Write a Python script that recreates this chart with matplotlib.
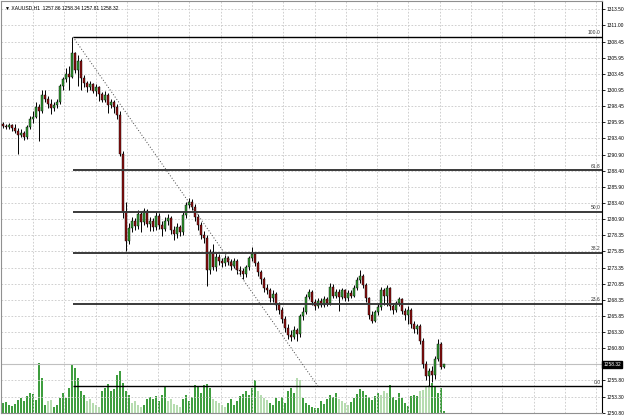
import numpy as np
from matplotlib import pyplot as plt

# --- XAUUSD H1 bars ---
first_open = 1295.6
closes = [1295.4, 1295.2, 1295.5, 1295.0, 1294.6, 1294.0, 1294.3, 1293.6, 1295.2, 1296.4,
          1296.8, 1298.3, 1297.6, 1300.2, 1299.6, 1298.8, 1298.1, 1298.6, 1299.1, 1301.5,
          1302.6, 1303.4, 1303.0, 1306.6, 1304.0, 1305.5, 1302.8, 1302.0, 1301.4, 1301.9,
          1300.8, 1301.4, 1300.3, 1299.4, 1300.1, 1298.6, 1299.0, 1298.3, 1297.0, 1291.0,
          1282.0, 1277.5, 1279.5, 1280.5, 1279.8, 1281.6, 1280.4, 1282.2, 1280.1, 1280.6,
          1279.6, 1281.4, 1280.0, 1279.4, 1280.5, 1281.0, 1279.2, 1278.5, 1279.6, 1278.8,
          1281.5, 1283.0, 1283.6, 1282.8, 1281.2, 1280.0, 1278.4, 1278.0, 1273.0, 1275.8,
          1273.5, 1275.0, 1274.4, 1274.0, 1274.8, 1274.2, 1273.6, 1274.3, 1273.0, 1272.8,
          1272.3, 1273.4, 1274.8, 1275.5, 1274.0, 1272.6, 1271.5, 1270.2, 1269.8, 1268.6,
          1269.2, 1267.5, 1266.8, 1265.4, 1264.0, 1262.8, 1262.5, 1263.6, 1263.0, 1265.8,
          1266.5, 1268.8, 1269.5, 1268.0, 1267.4, 1268.2, 1267.6, 1268.5, 1267.8, 1270.4,
          1269.0, 1269.6, 1268.8, 1269.8, 1268.6, 1269.4, 1269.0, 1270.2, 1271.4, 1272.0,
          1270.6, 1268.6, 1266.0, 1265.0, 1266.4, 1267.2, 1269.8, 1269.0, 1270.1, 1267.4,
          1266.8, 1267.8, 1268.4, 1266.6, 1266.0, 1266.8, 1264.6, 1263.8, 1264.2, 1262.0,
          1258.4, 1256.5, 1257.3, 1256.6, 1259.2, 1261.4, 1257.86, 1258.32]
highs = [1295.9, 1295.7, 1295.8, 1295.7, 1295.6, 1295.0, 1294.8, 1294.6, 1295.5, 1296.9,
         1297.6, 1299.0, 1298.8, 1300.9, 1300.9, 1300.0, 1299.5, 1299.0, 1299.6, 1301.8,
         1303.0, 1304.4, 1304.6, 1309.16, 1306.9, 1306.4, 1305.8, 1303.2, 1302.4, 1302.3,
         1302.0, 1301.8, 1301.6, 1300.6, 1300.7, 1300.4, 1299.6, 1299.4, 1298.8, 1297.6,
         1291.4, 1283.6, 1280.2, 1281.2, 1281.0, 1282.3, 1282.0, 1282.6, 1282.4, 1281.2,
         1281.0, 1282.2, 1281.8, 1280.6, 1281.2, 1281.6, 1281.4, 1279.8, 1280.2, 1280.0,
         1281.9, 1283.5, 1284.1, 1284.0, 1283.2, 1281.6, 1280.4, 1279.0, 1278.4, 1276.2,
         1277.0, 1275.6, 1275.4, 1274.9, 1275.3, 1275.2, 1274.6, 1274.8, 1274.6, 1273.6,
         1273.2, 1273.8, 1275.2, 1276.5, 1275.8, 1274.4, 1273.0, 1271.9, 1270.8, 1270.2,
         1269.8, 1269.6, 1268.0, 1267.2, 1265.8, 1264.6, 1263.6, 1264.2, 1264.0, 1266.2,
         1267.2, 1269.2, 1270.0, 1269.8, 1268.4, 1268.6, 1268.6, 1268.9, 1268.8, 1270.9,
         1270.8, 1270.0, 1270.0, 1270.2, 1270.0, 1269.8, 1269.8, 1270.6, 1271.8, 1272.9,
         1272.4, 1271.0, 1268.8, 1266.6, 1266.8, 1267.8, 1270.3, 1270.2, 1270.6, 1270.4,
         1267.8, 1268.2, 1268.8, 1268.6, 1267.0, 1267.4, 1267.0, 1265.0, 1264.6, 1264.5,
         1262.4, 1258.8, 1257.8, 1258.0, 1259.6, 1262.2, 1261.8, 1258.34]
lows = [1295.0, 1294.9, 1294.9, 1294.6, 1294.2, 1291.0, 1293.6, 1293.2, 1293.3, 1294.9,
        1295.8, 1296.5, 1293.0, 1297.3, 1299.0, 1298.2, 1297.2, 1297.6, 1298.2, 1298.8,
        1301.0, 1302.2, 1301.0, 1302.8, 1303.6, 1301.5, 1301.0, 1301.4, 1300.6, 1301.0,
        1300.4, 1300.0, 1299.2, 1299.0, 1299.0, 1297.3, 1298.2, 1297.4, 1296.4, 1290.6,
        1281.0, 1275.9, 1277.0, 1278.8, 1279.2, 1279.4, 1278.8, 1280.0, 1279.6, 1279.0,
        1279.0, 1279.2, 1279.4, 1278.2, 1279.0, 1280.0, 1278.6, 1277.6, 1278.0, 1278.2,
        1278.4, 1281.0, 1282.6, 1282.3, 1280.6, 1279.2, 1277.8, 1277.2, 1270.5, 1272.4,
        1273.0, 1272.8, 1273.8, 1273.4, 1273.6, 1273.8, 1273.0, 1273.2, 1272.4, 1272.2,
        1271.6, 1271.8, 1273.0, 1274.4, 1273.6, 1272.0, 1270.8, 1269.6, 1269.2, 1268.0,
        1268.0, 1266.8, 1266.2, 1264.8, 1263.4, 1262.2, 1262.0, 1262.2, 1262.0, 1262.6,
        1265.2, 1266.2, 1268.4, 1267.6, 1266.8, 1267.0, 1267.2, 1267.2, 1267.4, 1267.6,
        1268.6, 1268.6, 1266.6, 1268.4, 1268.2, 1268.2, 1268.6, 1268.8, 1269.8, 1271.0,
        1270.2, 1268.0, 1265.4, 1264.8, 1264.9, 1266.0, 1266.8, 1267.6, 1267.4, 1266.8,
        1266.2, 1266.4, 1267.4, 1266.2, 1265.2, 1264.6, 1264.0, 1263.2, 1263.0, 1261.4,
        1257.8, 1255.8, 1254.9, 1255.6, 1256.0, 1258.8, 1257.6, 1257.81]
volumes = [10, 11, 8, 7, 9, 13, 15, 12, 17, 20, 19, 13, 50, 35, 8, 12, 13, 6, 8, 15,
           20, 15, 25, 48, 45, 35, 22, 18, 12, 14, 10, 8, 6, 22, 25, 29, 22, 24, 38, 42,
           30, 22, 18, 10, 12, 8, 6, 8, 14, 16, 14, 17, 12, 18, 27, 12, 14, 9, 8, 6,
           14, 18, 12, 16, 28, 26, 20, 28, 29, 25, 14, 12, 10, 8, 6, 10, 14, 8, 12, 17,
           19, 22, 18, 25, 33, 22, 18, 15, 13, 10, 8, 15, 12, 16, 10, 22, 25, 20, 35, 33,
           15, 10, 8, 6, 5, 5, 12, 9, 14, 18, 16, 20, 14, 12, 10, 8, 11, 15, 19, 24,
           22, 18, 16, 13, 17, 20, 18, 22, 20, 28, 16, 13, 20, 15, 10, 7, 17, 18, 17, 22,
           23, 27, 28, 30, 27, 20, 25, 2]
light_volume_bars = [15, 16, 28, 29, 30, 31, 32, 43, 44, 45, 46, 55, 56, 57, 58, 59,
                     70, 71, 72, 73, 74, 85, 86, 87, 88, 98, 99, 112, 113, 114, 115,
                     126, 127, 128, 139, 140, 141, 142]

# price scale labels as shown by the terminal
tick_labels = ['1313.50', '1311.00', '1308.45', '1305.95', '1303.45', '1300.95', '1298.45',
               '1295.95', '1293.40', '1290.90', '1288.40', '1285.90', '1283.40', '1280.90',
               '1278.35', '1275.85', '1273.35', '1270.85', '1268.35', '1265.85', '1263.30',
               '1260.80', '1255.80', '1253.30', '1250.80']

# fibonacci retracement
fib_high = 1309.16
fib_low = 1254.9
fib_levels = [100.0, 61.8, 50.0, 38.2, 23.6, 0.0]
fib_start = 23.33
fib_trend_end = 105

last_price = 1258.32
header = '\u25bc XAUUSD,H1  1257.86 1258.34 1257.81 1258.32'

n = len(closes)
idx = np.arange(n)
opens = [first_open] + closes[:-1]

fig = plt.figure(figsize=(6.25, 4.15), dpi=100)
pos = [1 / 625, 2 / 415, 601 / 625, 412 / 415]
axv = fig.add_axes(pos)
ax = fig.add_axes(pos)
ax.patch.set_visible(False)
xlim = (-0.67, 199.67)

# volumes, behind price
vcol = ['#b6dcb0' if i in light_volume_bars else '#3f9e3f' for i in range(n)]
axv.bar(idx, volumes, width=0.55, color=vcol, linewidth=0)
axv.set_xlim(xlim)
axv.set_ylim(0, 412)
axv.axis('off')

ax.set_xlim(xlim)
ax.set_ylim(1250.75, 1314.75)

# grid
for k in range(19):
    ax.axvline(10 + 10.43 * k, color='#c8c8c8', lw=0.6, ls=(0, (2, 2)), zorder=0)
tvals = [float(t) for t in tick_labels]
for t in tvals:
    ax.axhline(t, color='#c8c8c8', lw=0.6, ls=(0, (2, 2)), zorder=0)

# bid line
ax.axhline(last_price, color='#c0c0c0', lw=0.8, zorder=1)

# candles
o = np.array(opens)
c = np.array(closes)
ax.vlines(idx, lows, highs, color='black', lw=0.7, zorder=2)
bull = c >= o
body_lo = np.minimum(o, c)
body_h = np.maximum(np.abs(c - o), 0.12)
ax.bar(idx[bull], body_h[bull], bottom=body_lo[bull], width=0.7,
       color='#2f9a2f', edgecolor='black', linewidth=0.3, zorder=3)
ax.bar(idx[~bull], body_h[~bull], bottom=body_lo[~bull], width=0.7,
       color='#8e1010', edgecolor='black', linewidth=0.3, zorder=3)

# fibonacci lines
for lv in fib_levels:
    price = fib_low + (fib_high - fib_low) * lv / 100
    if lv in (100.0, 0.0):
        col, lw = 'black', 1.0
    else:
        col, lw = '#3a3a3a', 1.4
    ax.hlines(price, fib_start, xlim[1], color=col, lw=lw, zorder=4)
    ax.text(199.2, price + 0.25, '%.1f' % lv, fontsize=3.6, ha='right', va='bottom',
            color='#333333', family='Liberation Sans', zorder=5)
ax.plot([fib_start, fib_trend_end], [fib_high, fib_low], color='#444444', lw=0.7,
        ls=(0, (1, 2)), zorder=4)

# axes styling
ax.yaxis.tick_right()
ax.set_yticks(tvals)
ax.set_yticklabels(tick_labels, family='Liberation Sans')
ax.tick_params(axis='y', length=2.2, width=0.6, labelsize=3.5, pad=0.8)
ax.set_xticks([])
for s in ['left', 'top', 'bottom']:
    ax.spines[s].set_color('#909090')
    ax.spines[s].set_linewidth(0.8)
ax.spines['right'].set_color('black')
ax.spines['right'].set_linewidth(0.8)

# current price box
ax.text(1.002, last_price, '%.2f' % last_price, transform=ax.get_yaxis_transform(),
        fontsize=3.5, color='white', va='center', ha='left', family='Liberation Sans',
        bbox=dict(boxstyle='square,pad=0.2', fc='black', ec='black'), clip_on=False)

fig.text(5 / 625, 1 - 8 / 415, header, fontsize=3.6, va='center', ha='left',
         family=['Liberation Sans', 'DejaVu Sans'])

fig.savefig('out.png', dpi=100)
